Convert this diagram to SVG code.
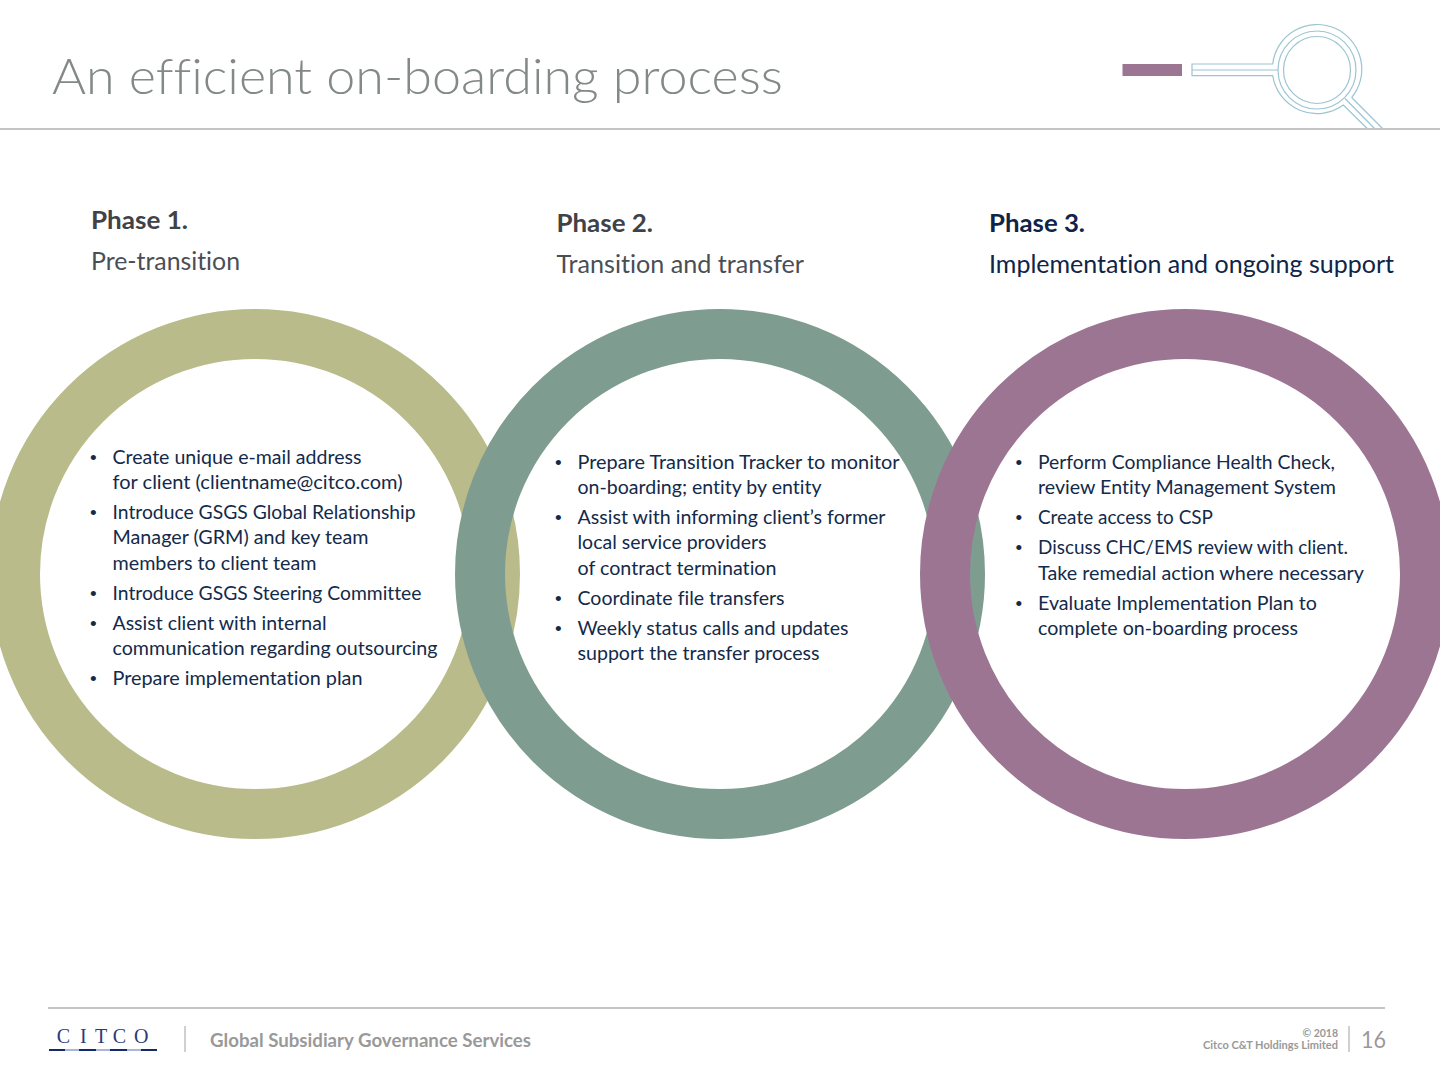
<svg xmlns="http://www.w3.org/2000/svg" width="1440" height="1080" viewBox="0 0 1440 1080">
<style>
text{font-family:"Lato","Open Sans","Liberation Sans",sans-serif;font-variant-ligatures:none}
.ring{fill:none;stroke-width:50}
.b{font-size:19.500px;fill:#132A4A}
.d{font-size:19px;fill:#132A4A;font-family:"Liberation Sans",sans-serif}
.h{font-size:24.500px;font-weight:700;fill:#404247}
.s{font-size:24.500px;fill:#4A4E55}
.k{fill:none;stroke:#9CC4D2;stroke-width:1.200}
</style>
<rect width="1440" height="1080" fill="#fff"/>
<text x="52" y="93.500" font-size="50" font-weight="300" fill="#828987" textLength="731" lengthAdjust="spacingAndGlyphs">An efficient on-boarding process</text>
<g id="magnifier">
<rect x="1122.500" y="64" width="59.500" height="12" fill="#9C7592"/>
<circle class="k" cx="1317" cy="70" r="39"/><circle class="k" cx="1317" cy="70" r="33.500"/>
<path class="k" d="M1351.700 97.500A44.700 44.700 0 1 0 1272.700 64H1192V75.700H1272.700A44.700 44.700 0 0 0 1343.300 105L1367.700 129M1351.700 97.500L1383 129M1345 98.500L1375 129M1192 70H1278"/>
</g>
<rect x="0" y="128" width="1440" height="2" fill="#C4C4C4"/>
<g id="phase1-ring"><circle class="ring" cx="255" cy="574" r="240" stroke="#B9BB8A"/></g>
<g id="phase2-ring"><circle class="ring" cx="720" cy="574" r="240" stroke="#7F9C90"/></g>
<g id="phase3-ring"><circle class="ring" cx="1185" cy="574" r="240" stroke="#9C7592"/></g>
<g id="phase1">
<text class="h" x="91" y="228.500" textLength="97" lengthAdjust="spacingAndGlyphs">Phase 1.</text>
<text class="s" x="91" y="270" textLength="149" lengthAdjust="spacingAndGlyphs">Pre-transition</text>
<text class="d" x="90" y="464">•</text><text class="b" x="112.500" y="464" textLength="249" lengthAdjust="spacingAndGlyphs">Create unique e-mail address</text>
<text class="b" x="112.500" y="489" textLength="290" lengthAdjust="spacingAndGlyphs">for client (clientname@citco.com)</text>
<text class="d" x="90" y="519">•</text><text class="b" x="112.500" y="519" textLength="303" lengthAdjust="spacingAndGlyphs">Introduce GSGS Global Relationship</text>
<text class="b" x="112.500" y="544" textLength="256" lengthAdjust="spacingAndGlyphs">Manager (GRM) and key team</text>
<text class="b" x="112.500" y="570" textLength="204" lengthAdjust="spacingAndGlyphs">members to client team</text>
<text class="d" x="90" y="600">•</text><text class="b" x="112.500" y="600" textLength="309" lengthAdjust="spacingAndGlyphs">Introduce GSGS Steering Committee</text>
<text class="d" x="90" y="630">•</text><text class="b" x="112.500" y="630" textLength="214" lengthAdjust="spacingAndGlyphs">Assist client with internal</text>
<text class="b" x="112.500" y="655" textLength="325" lengthAdjust="spacingAndGlyphs">communication regarding outsourcing</text>
<text class="d" x="90" y="685">•</text><text class="b" x="112.500" y="685" textLength="250" lengthAdjust="spacingAndGlyphs">Prepare implementation plan</text>
</g>
<g id="phase2">
<text class="h" x="556.500" y="231.500" textLength="96.500" lengthAdjust="spacingAndGlyphs">Phase 2.</text>
<text class="s" x="556.500" y="273" textLength="247.500" lengthAdjust="spacingAndGlyphs">Transition and transfer</text>
<text class="d" x="555" y="469">•</text><text class="b" x="577.500" y="469" textLength="322" lengthAdjust="spacingAndGlyphs">Prepare Transition Tracker to monitor</text>
<text class="b" x="577.500" y="494" textLength="244" lengthAdjust="spacingAndGlyphs">on-boarding; entity by entity</text>
<text class="d" x="555" y="524">•</text><text class="b" x="577.500" y="524" textLength="308" lengthAdjust="spacingAndGlyphs">Assist with informing client’s former</text>
<text class="b" x="577.500" y="549" textLength="189" lengthAdjust="spacingAndGlyphs">local service providers</text>
<text class="b" x="577.500" y="575" textLength="199" lengthAdjust="spacingAndGlyphs">of contract termination</text>
<text class="d" x="555" y="605">•</text><text class="b" x="577.500" y="605" textLength="207" lengthAdjust="spacingAndGlyphs">Coordinate file transfers</text>
<text class="d" x="555" y="635">•</text><text class="b" x="577.500" y="635" textLength="271" lengthAdjust="spacingAndGlyphs">Weekly status calls and updates</text>
<text class="b" x="577.500" y="660" textLength="242" lengthAdjust="spacingAndGlyphs">support the transfer process</text>
</g>
<g id="phase3">
<text class="h" x="989" y="231.500" textLength="96" lengthAdjust="spacingAndGlyphs" style="fill:#0F2447">Phase 3.</text>
<text class="s" x="989" y="273" textLength="405" lengthAdjust="spacingAndGlyphs" style="fill:#0F2447">Implementation and ongoing support</text>
<text class="d" x="1015.500" y="469">•</text><text class="b" x="1038" y="469" textLength="297" lengthAdjust="spacingAndGlyphs">Perform Compliance Health Check,</text>
<text class="b" x="1038" y="494" textLength="298" lengthAdjust="spacingAndGlyphs">review Entity Management System</text>
<text class="d" x="1015.500" y="524">•</text><text class="b" x="1038" y="524" textLength="175" lengthAdjust="spacingAndGlyphs">Create access to CSP</text>
<text class="d" x="1015.500" y="554">•</text><text class="b" x="1038" y="554" textLength="310" lengthAdjust="spacingAndGlyphs">Discuss CHC/EMS review with client.</text>
<text class="b" x="1038" y="580" textLength="326" lengthAdjust="spacingAndGlyphs">Take remedial action where necessary</text>
<text class="d" x="1015.500" y="610">•</text><text class="b" x="1038" y="610" textLength="279" lengthAdjust="spacingAndGlyphs">Evaluate Implementation Plan to</text>
<text class="b" x="1038" y="635" textLength="260" lengthAdjust="spacingAndGlyphs">complete on-boarding process</text>
</g>
<g id="footer">
<rect x="48" y="1007" width="1337" height="2" fill="#C4C4C4"/>
<text x="56.700 80 95 112.700 134" y="1042.500" font-size="20" style="font-family:'Liberation Serif',serif" fill="#2A3A78">CITCO</text>
<rect x="49" y="1049" width="108" height="2" fill="#14296B"/>
<rect x="65" y="1049" width="14" height="2" fill="#A9B8D8"/><rect x="96" y="1049" width="14" height="2" fill="#A9B8D8"/><rect x="127" y="1049" width="14" height="2" fill="#A9B8D8"/>
<rect x="184" y="1026" width="2" height="26" fill="#D0D0D0"/>
<text x="210" y="1047" font-size="18" font-weight="700" fill="#999" textLength="321" lengthAdjust="spacingAndGlyphs">Global Subsidiary Governance Services</text>
<text x="1338" y="1037" font-size="10.500" font-weight="700" fill="#999" text-anchor="end">© 2018</text>
<text x="1203" y="1049" font-size="10.500" font-weight="700" fill="#999" textLength="135" lengthAdjust="spacingAndGlyphs">Citco C&amp;T Holdings Limited</text>
<rect x="1348" y="1026" width="2" height="26" fill="#D0D0D0"/>
<text x="1361" y="1048" font-size="24" fill="#999" textLength="25" lengthAdjust="spacingAndGlyphs">16</text>
</g>
</svg>
